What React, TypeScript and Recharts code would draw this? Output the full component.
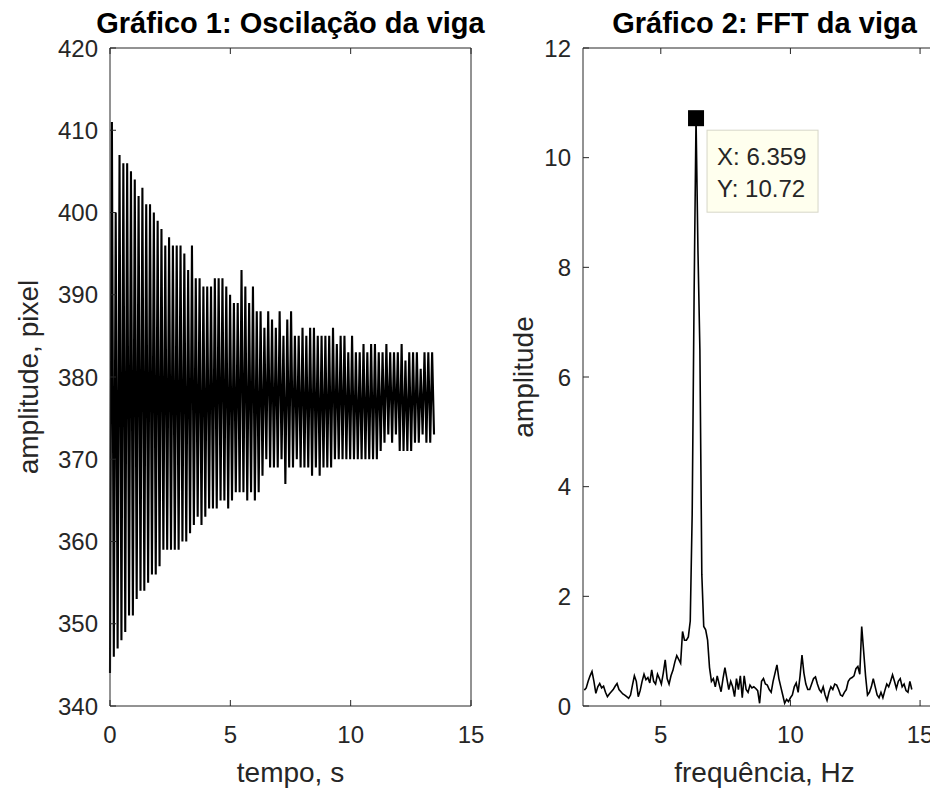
import { LineChart, Line, XAxis, YAxis, ReferenceDot } from "recharts";

// ─── Estilo (imitando o MATLAB) ───────────────────────────────────────────

const FONT = '"Liberation Sans", Arial, Helvetica, sans-serif';
const AXIS = "#262626";
const TICK_FS = 24;
const LABEL_FS = 28;
const TITLE_FS = 29;

// ─── Gráfico 1: oscilação da viga ─────────────────────────────────────────

const TEMPO_TICKS = [0, 5, 10, 15];
const PIXEL_TICKS = [340, 350, 360, 370, 380, 390, 400, 410, 420];

// intervalo entre amostras (s): meio período de ~6.36 Hz
const DT = 0.0792;

// máximos de cada ciclo (pixel)
const PICOS = [
  411, 400, 407, 406, 406, 405, 404, 402, 403, 401,
  401, 400, 399, 398, 396, 397, 396, 396, 396, 395,
  393, 396, 392, 392, 391, 391, 391, 392, 392, 392,
  391, 390, 389, 389, 393, 391, 389, 391, 388, 388,
  386, 388, 387, 386, 388, 385, 387, 388, 385, 385,
  386, 385, 386, 386, 385, 385, 385, 385, 386, 384,
  385, 385, 383, 385, 383, 383, 384, 383, 384, 384,
  383, 383, 384, 383, 383, 383, 384, 382, 383, 383,
  383, 381, 383, 383, 383,
];

// mínimos de cada ciclo (pixel)
const VALES = [
  344, 346, 347, 348, 349, 351, 351, 353, 354, 354,
  355, 356, 356, 357, 359, 359, 359, 359, 359, 360,
  360, 361, 362, 363, 362, 363, 364, 364, 364, 365,
  365, 364, 365, 366, 366, 366, 365, 366, 365, 366,
  368, 370, 369, 369, 369, 370, 367, 369, 369, 370,
  369, 369, 369, 368, 369, 368, 369, 369, 369, 370,
  370, 370, 370, 370, 370, 370, 370, 370, 370, 370,
  370, 371, 372, 373, 372, 373, 371, 371, 371, 371,
  372, 372, 373, 372, 372,
];

const ULTIMO = 373;

const oscData: { t: number; y: number }[] = [];
VALES.forEach((v, k) => {
  oscData.push({ t: 2 * k * DT, y: v });
  oscData.push({ t: (2 * k + 1) * DT, y: PICOS[k] });
});
oscData.push({ t: 2 * VALES.length * DT, y: ULTIMO });

// ─── Gráfico 2: FFT da viga ───────────────────────────────────────────────

const FREQ_TICKS = [5, 10, 15];
const AMP_TICKS = [0, 2, 4, 6, 8, 10, 12];

const F0 = 2.05; // Hz
const DF = 0.0743; // Hz

const AMPLITUDES = [
  0.29, 0.33, 0.45, 0.55, 0.63, 0.45, 0.23, 0.35, 0.41, 0.33,
  0.36, 0.25, 0.17, 0.22, 0.26, 0.30, 0.36, 0.41, 0.30, 0.26,
  0.22, 0.20, 0.17, 0.14, 0.20, 0.38, 0.55, 0.45, 0.17, 0.28,
  0.45, 0.58, 0.48, 0.52, 0.42, 0.66, 0.45, 0.40, 0.58, 0.50,
  0.40, 0.60, 0.84, 0.50, 0.40, 0.55, 0.65, 0.80, 0.92, 0.85,
  0.78, 1.36, 1.20, 1.20, 1.26, 1.55, 3.50, 7.50, 10.72, 8.30,
  6.50, 2.40, 1.45, 1.39, 1.20, 0.70, 0.45, 0.50, 0.35, 0.55,
  0.40, 0.26, 0.50, 0.70, 0.50, 0.30, 0.45, 0.35, 0.17, 0.50,
  0.30, 0.55, 0.15, 0.55, 0.30, 0.25, 0.38, 0.33, 0.35, 0.32,
  0.28, 0.05, 0.45, 0.50, 0.40, 0.38, 0.30, 0.25, 0.45, 0.60,
  0.75, 0.50, 0.35, 0.20, 0.05, 0.12, 0.08, 0.15, 0.20, 0.35,
  0.42, 0.25, 0.55, 0.93, 0.60, 0.40, 0.30, 0.30, 0.40, 0.50,
  0.53, 0.40, 0.30, 0.25, 0.35, 0.20, 0.10, 0.25, 0.35, 0.30,
  0.40, 0.38, 0.30, 0.20, 0.18, 0.25, 0.30, 0.45, 0.50, 0.52,
  0.55, 0.68, 0.72, 0.58, 1.45, 1.00, 0.55, 0.20, 0.25, 0.35,
  0.50, 0.35, 0.20, 0.15, 0.25, 0.15, 0.28, 0.40, 0.35, 0.45,
  0.57, 0.45, 0.32, 0.45, 0.50, 0.35, 0.40, 0.28, 0.25, 0.45,
  0.30,
];

const fftData = AMPLITUDES.map((a, i) => ({ f: F0 + i * DF, a }));

// ponto marcado (data tip)
const PICO_IDX = AMPLITUDES.indexOf(Math.max(...AMPLITUDES));
const PICO = fftData[PICO_IDX];

// ─── Ticks no estilo MATLAB (para dentro) ─────────────────────────────────

const textStyle = { fontFamily: FONT, fontSize: TICK_FS, fill: AXIS };

function BottomTick(props: any) {
  const { x, y, payload } = props;
  return (
    <g>
      <line x1={x} x2={x} y1={y} y2={y - 6} stroke={AXIS} />
      <text x={x} y={y + 37} textAnchor="middle" {...textStyle}>
        {payload.value}
      </text>
    </g>
  );
}

function TopTick(props: any) {
  const { x, y } = props;
  return <line x1={x} x2={x} y1={y} y2={y + 6} stroke={AXIS} />;
}

function LeftTick(props: any) {
  const { x, y, payload } = props;
  return (
    <g>
      <line x1={x} x2={x + 6} y1={y} y2={y} stroke={AXIS} />
      <text x={x - 12} y={y} dy="0.36em" textAnchor="end" {...textStyle}>
        {payload.value}
      </text>
    </g>
  );
}

function RightTick(props: any) {
  const { x, y } = props;
  return <line x1={x} x2={x - 6} y1={y} y2={y} stroke={AXIS} />;
}

// ─── Rótulos ──────────────────────────────────────────────────────────────

function titleLabel(text: string) {
  return {
    content: (p: any) => {
      const vb = p.viewBox;
      return (
        <text
          x={vb.x + vb.width / 2}
          y={33}
          textAnchor="middle"
          fontFamily={FONT}
          fontSize={TITLE_FS}
          fontWeight="bold"
          fill="#000"
        >
          {text}
        </text>
      );
    },
  };
}

function xLabel(text: string) {
  return {
    content: (p: any) => {
      const vb = p.viewBox;
      return (
        <text
          x={vb.x + vb.width / 2}
          y={vb.y + 76}
          textAnchor="middle"
          fontFamily={FONT}
          fontSize={LABEL_FS}
          fill={AXIS}
        >
          {text}
        </text>
      );
    },
  };
}

function yLabel(text: string, baseX: number) {
  return {
    content: (p: any) => {
      const vb = p.viewBox;
      const cy = vb.y + vb.height / 2;
      return (
        <text
          x={baseX}
          y={cy}
          transform={`rotate(-90 ${baseX} ${cy})`}
          textAnchor="middle"
          fontFamily={FONT}
          fontSize={LABEL_FS}
          fill={AXIS}
        >
          {text}
        </text>
      );
    },
  };
}

function DataTip(props: any) {
  const { cx, cy } = props;
  return (
    <g>
      <rect x={cx - 8} y={cy - 8} width={16} height={16} fill="#000" />
      <rect
        x={cx + 11}
        y={cy + 12}
        width={111}
        height={82}
        fill="#ffffee"
        stroke="#d6d6c8"
      />
      <text x={cx + 21} y={cy + 47} {...textStyle}>
        {`X: ${PICO.f.toFixed(3)}`}
      </text>
      <text x={cx + 21} y={cy + 79} {...textStyle}>
        {`Y: ${PICO.a.toFixed(2)}`}
      </text>
    </g>
  );
}

// ─── App ──────────────────────────────────────────────────────────────────

export default function App() {
  return (
    <div
      style={{
        position: "absolute",
        left: 0,
        top: 0,
        width: 930,
        height: 789,
        overflow: "hidden",
        background: "#fff",
      }}
    >
      <div style={{ position: "absolute", left: 0, top: 0 }}>
        <LineChart
          width={500}
          height={789}
          data={oscData}
          margin={{ top: 47, right: 28, bottom: 43, left: 50 }}
        >
          <XAxis
            dataKey="t"
            type="number"
            domain={[0, 15]}
            ticks={TEMPO_TICKS}
            interval={0}
            height={40}
            tickSize={0}
            tickMargin={0}
            tickLine={false}
            tick={BottomTick}
            axisLine={{ stroke: AXIS }}
            label={xLabel("tempo, s")}
          />
          <XAxis
            xAxisId="top"
            orientation="top"
            dataKey="t"
            type="number"
            domain={[0, 15]}
            ticks={TEMPO_TICKS}
            interval={0}
            height={1}
            tickSize={0}
            tickMargin={0}
            tickLine={false}
            tick={TopTick}
            axisLine={{ stroke: AXIS }}
            label={titleLabel("Gráfico 1: Oscilação da viga")}
          />
          <YAxis
            type="number"
            domain={[340, 420]}
            ticks={PIXEL_TICKS}
            interval={0}
            width={60}
            tickSize={0}
            tickMargin={0}
            tickLine={false}
            tick={LeftTick}
            axisLine={{ stroke: AXIS }}
            label={yLabel("amplitude, pixel", 38)}
          />
          <YAxis
            yAxisId="right"
            orientation="right"
            type="number"
            domain={[340, 420]}
            ticks={PIXEL_TICKS}
            interval={0}
            width={1}
            tickSize={0}
            tickMargin={0}
            tickLine={false}
            tick={RightTick}
            axisLine={{ stroke: AXIS }}
          />
          <Line
            type="linear"
            dataKey="y"
            stroke="#000"
            strokeWidth={2.1}
            dot={false}
            activeDot={false}
            isAnimationActive={false}
          />
        </LineChart>
      </div>

      <div style={{ position: "absolute", left: 500, top: 0 }}>
        <LineChart
          width={470}
          height={789}
          data={fftData}
          margin={{ top: 47, right: 23, bottom: 43, left: 23 }}
        >
          <XAxis
            dataKey="f"
            type="number"
            domain={[2, 16]}
            ticks={FREQ_TICKS}
            interval={0}
            height={40}
            tickSize={0}
            tickMargin={0}
            tickLine={false}
            tick={BottomTick}
            axisLine={{ stroke: AXIS }}
            label={xLabel("frequência, Hz")}
          />
          <XAxis
            xAxisId="top"
            orientation="top"
            dataKey="f"
            type="number"
            domain={[2, 16]}
            ticks={FREQ_TICKS}
            interval={0}
            height={1}
            tickSize={0}
            tickMargin={0}
            tickLine={false}
            tick={TopTick}
            axisLine={{ stroke: AXIS }}
            label={titleLabel("Gráfico 2: FFT da viga")}
          />
          <YAxis
            type="number"
            domain={[0, 12]}
            ticks={AMP_TICKS}
            interval={0}
            width={60}
            tickSize={0}
            tickMargin={0}
            tickLine={false}
            tick={LeftTick}
            axisLine={{ stroke: AXIS }}
            label={yLabel("amplitude", 33)}
          />
          <YAxis
            yAxisId="right"
            orientation="right"
            type="number"
            domain={[0, 12]}
            ticks={AMP_TICKS}
            interval={0}
            width={1}
            tickSize={0}
            tickMargin={0}
            tickLine={false}
            tick={RightTick}
            axisLine={{ stroke: AXIS }}
          />
          <Line
            type="linear"
            dataKey="a"
            stroke="#000"
            strokeWidth={1.6}
            dot={false}
            activeDot={false}
            isAnimationActive={false}
          />
          <ReferenceDot x={PICO.f} y={PICO.a} r={8} shape={DataTip} />
        </LineChart>
      </div>
    </div>
  );
}
